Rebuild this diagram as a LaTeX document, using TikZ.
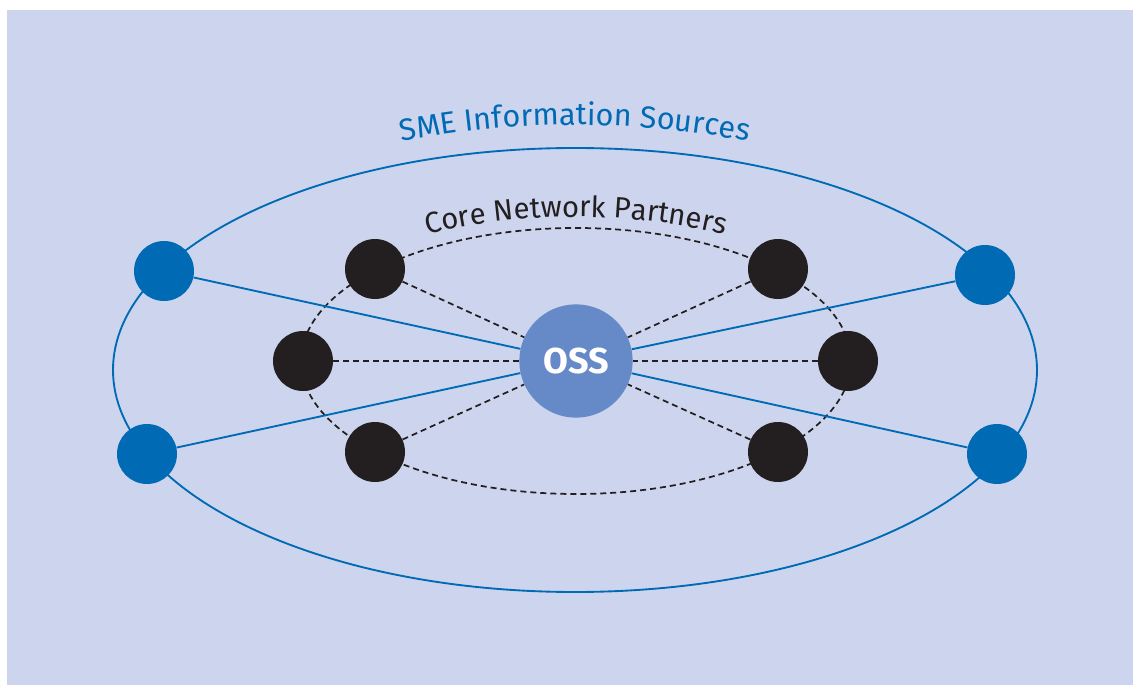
\documentclass[tikz,border=0pt]{standalone}
\usepackage{fontspec}
\setmainfont{Fira Sans}
\usepackage{tikz}
\usetikzlibrary{decorations.text}

\definecolor{bgblue}{RGB}{205,213,238}
\definecolor{srcblue}{RGB}{0,106,180}
\definecolor{ossblue}{RGB}{102,137,199}
\definecolor{coreblack}{RGB}{35,31,32}

\tikzset{
  source/.style={circle,fill=srcblue,inner sep=0pt,minimum size=45pt},
  partner/.style={circle,fill=coreblack,inner sep=0pt,minimum size=45pt},
  hub/.style={circle,fill=ossblue,inner sep=0pt,minimum size=85pt,text=white,font=\fontsize{27}{27}\selectfont\bfseries},
  srcline/.style={draw=srcblue,line width=1.4pt},
  coreline/.style={draw=coreblack,line width=1.3pt,dash pattern={on 4.5pt off 3pt}}
}

\begin{document}
\begin{tikzpicture}[x=0.75pt,y=0.75pt,yscale=-1,xscale=1]
\useasboundingbox (0,0) rectangle (1133,685);
%Shape: Rectangle [background]
\fill [bgblue] (7,10) rectangle (1133,685);

%Shape: Ellipse [sources]
\draw [srcline] (575,370) ellipse [x radius=462, y radius=222];
%Shape: Ellipse [partners]
\draw [coreline] (576,361) ellipse [x radius=275, y radius=133];

% Nodes
\node [hub] (oss) at (576,361) {OSS};
\node [source] (src1) at (164,271) {};
\node [source] (src2) at (147,454) {};
\node [source] (src3) at (985,275) {};
\node [source] (src4) at (997,454) {};
\node [partner] (core1) at (375,269) {};
\node [partner] (core2) at (303,361) {};
\node [partner] (core3) at (375,452) {};
\node [partner] (core4) at (778,269) {};
\node [partner] (core5) at (848,361) {};
\node [partner] (core6) at (778,452) {};

%Straight Lines [links to oss]
\foreach \s in {src1,src2,src3,src4}
  \draw [srcline] (\s) -- (oss);
\foreach \c in {core1,core2,core3,core4,core5,core6}
  \draw [coreline] (\c) -- (oss);

% Text Node
\path [decorate,decoration={text along path,text align=center,
  text={|\fontsize{23}{27}\selectfont\color{srcblue}|SME Information Sources}}]
  (575,370) ++(180:477 and 245) arc [start angle=180, end angle=360, x radius=477, y radius=245];
% Text Node
\path [decorate,decoration={text along path,text align=center,
  text={|\fontsize{22}{26}\selectfont\color{coreblack}|Core Network Partners}}]
  (576,361) ++(180:310 and 144) arc [start angle=180, end angle=360, x radius=310, y radius=144];

\end{tikzpicture}
\end{document}
